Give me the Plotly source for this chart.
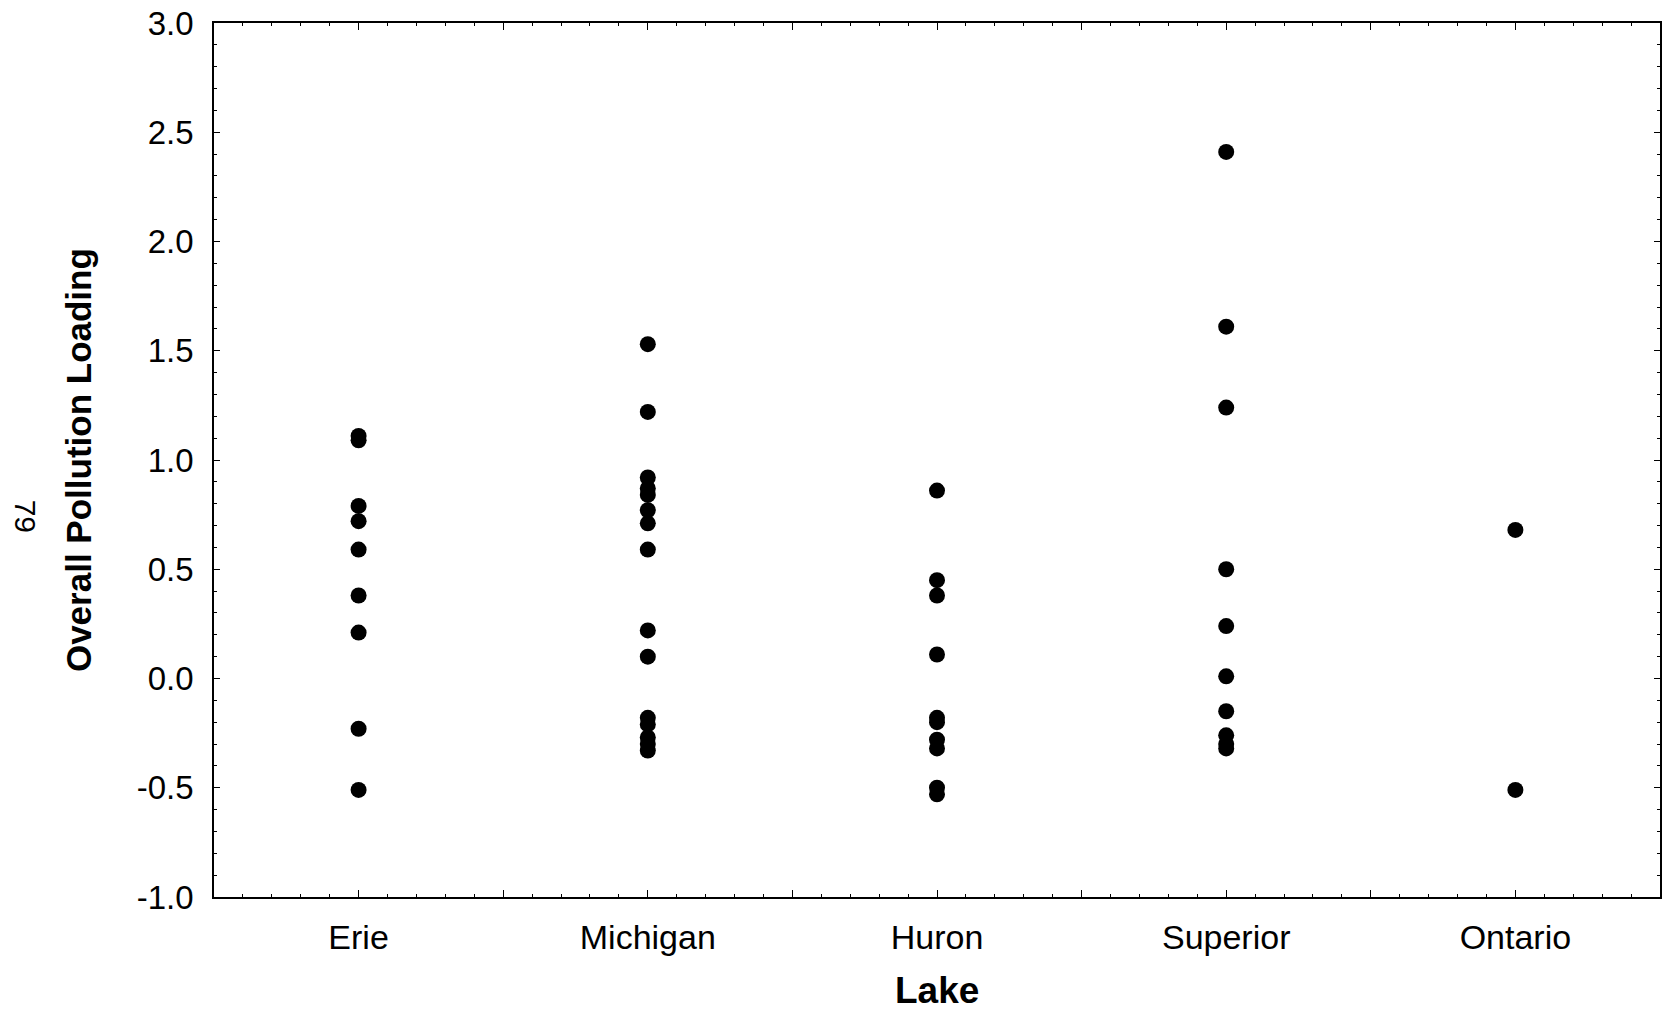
import plotly.graph_objects as go

lakes = ["Erie", "Michigan", "Huron", "Superior", "Ontario"]

erie = [1.11, 1.09, 0.79, 0.72, 0.59, 0.38, 0.21, -0.23, -0.51]
michigan = [1.53, 1.22, 0.92, 0.87, 0.84, 0.77, 0.71, 0.59, 0.22, 0.10,
            -0.18, -0.21, -0.27, -0.30, -0.33]
huron = [0.86, 0.45, 0.38, 0.11, -0.18, -0.20, -0.28, -0.32, -0.50, -0.53]
superior = [2.41, 1.61, 1.24, 0.50, 0.24, 0.01, -0.15, -0.26, -0.30, -0.32]
ontario = [0.68, -0.51]

series = [erie, michigan, huron, superior, ontario]

y_ticks = [-1.0, -0.5, 0.0, 0.5, 1.0, 1.5, 2.0, 2.5, 3.0]
y_labels = ["-1.0", "-0.5", "0.0", "0.5", "1.0", "1.5", "2.0", "2.5", "3.0"]

FONT = "Liberation Sans, Arial, Helvetica, sans-serif"

fig = go.Figure()
for i, vals in enumerate(series):
    fig.add_trace(go.Scatter(
        x=[i + 1] * len(vals),
        y=vals,
        mode="markers",
        marker=dict(color="black", size=16, line=dict(width=0)),
        showlegend=False,
        name=lakes[i],
    ))

x_tickvals = [0.5 + 0.5 * k for k in range(11)]
x_ticktext = [lakes[int(v) - 1] if float(v).is_integer() else "" for v in x_tickvals]

fig.update_xaxes(
    range=[0.5, 5.5],
    tickmode="array",
    tickvals=x_tickvals,
    ticktext=x_ticktext,
    ticks="inside",
    ticklen=7,
    tickwidth=1,
    tickcolor="black",
    showline=True,
    linecolor="black",
    linewidth=1.5,
    mirror="ticks",
    showgrid=False,
    zeroline=False,
    tickfont=dict(family=FONT, size=34, color="black"),
    ticklabelstandoff=9,
    minor=dict(tickmode="linear", tick0=0, dtick=0.1, ticks="inside",
               ticklen=3, tickcolor="black", showgrid=False),
)

fig.update_yaxes(
    range=[-1.0, 3.0],
    tickmode="array",
    tickvals=y_ticks,
    ticktext=y_labels,
    ticks="inside",
    ticklen=6,
    tickwidth=1,
    tickcolor="black",
    showline=True,
    linecolor="black",
    linewidth=1.5,
    mirror="ticks",
    showgrid=False,
    zeroline=False,
    tickfont=dict(family=FONT, size=33, color="black"),
    ticklabelstandoff=12,
    minor=dict(tickmode="linear", tick0=0, dtick=0.1, ticks="inside",
               ticklen=3, tickcolor="black", showgrid=False),
)

fig.add_annotation(
    text="<b>Lake</b>", xref="paper", yref="paper", x=0.5, y=-0.107,
    showarrow=False, xanchor="center", yanchor="middle",
    font=dict(family=FONT, size=37, color="black"),
)
fig.add_annotation(
    text="<b>Overall Pollution Loading</b>", xref="paper", yref="paper",
    x=-0.094, y=0.5, textangle=-90, showarrow=False,
    xanchor="center", yanchor="middle",
    font=dict(family=FONT, size=35, color="black"),
)
fig.add_annotation(
    text="79", xref="paper", yref="paper",
    x=-0.1305, y=0.436, textangle=90, showarrow=False,
    xanchor="center", yanchor="middle",
    font=dict(family=FONT, size=30, color="black"),
)

fig.update_layout(
    width=1667,
    height=1011,
    margin=dict(l=214, r=5, t=20, b=114),
    paper_bgcolor="white",
    plot_bgcolor="white",
)

fig.write_html(
    "out.html",
    config={"displayModeBar": False},
    post_script="document.body.style.margin='0';document.body.style.overflow='hidden';",
)
